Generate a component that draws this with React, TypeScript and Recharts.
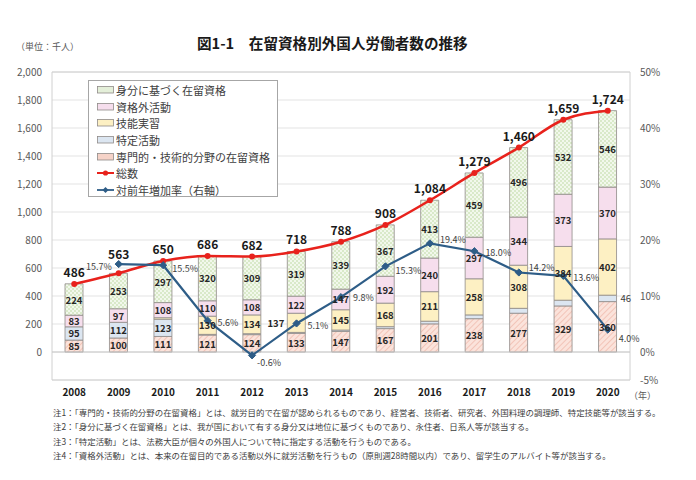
import React from "react";
import {
  ComposedChart, Bar, Line, XAxis, YAxis, CartesianGrid,
  ReferenceArea, ReferenceLine, LabelList,
} from "recharts";

// ── Data (千人) ────────────────────────────────────────────────────────────
const YEARS = ["2008", "2009", "2010", "2011", "2012", "2013", "2014", "2015", "2016", "2017", "2018", "2019", "2020"];
const SENMON = [85, 100, 111, 121, 124, 133, 147, 167, 201, 238, 277, 329, 360];      // 専門的・技術的分野
const TOKUTEI = [95, 112, 123, 5, 7, 7, 10, 14, 19, 27, 35, 41, 46];                   // 特定活動
const GINOU = [0, 0, 11, 130, 134, 137, 145, 168, 211, 258, 308, 384, 402];             // 技能実習
const SHIKAKUGAI = [83, 97, 108, 110, 108, 122, 147, 192, 240, 297, 344, 373, 370];     // 資格外活動
const MIBUN = [224, 253, 297, 320, 309, 319, 339, 367, 413, 459, 496, 532, 546];        // 身分に基づく
const TOTAL = [486, 563, 650, 686, 682, 718, 788, 908, 1084, 1279, 1460, 1659, 1724];
const GROWTH = [null, 15.7, 15.5, 5.6, -0.6, 5.1, 9.8, 15.3, 19.4, 18.0, 14.2, 13.6, 4.0];

const LEFT_TICKS = [0, 200, 400, 600, 800, 1000, 1200, 1400, 1600, 1800, 2000];
const RIGHT_TICKS = [-5, 0, 10, 20, 30, 40, 50];

const NOTES = [
  "注1：「専門的・技術的分野の在留資格」とは、就労目的で在留が認められるものであり、経営者、技術者、研究者、外国料理の調理師、特定技能等が該当する。",
  "注2：「身分に基づく在留資格」とは、我が国において有する身分又は地位に基づくものであり、永住者、日系人等が該当する。",
  "注3：「特定活動」とは、法務大臣が個々の外国人について特に指定する活動を行うものである。",
  "注4：「資格外活動」とは、本来の在留目的である活動以外に就労活動を行うもの（原則週28時間以内）であり、留学生のアルバイト等が該当する。",
];

const rows = YEARS.map((year, i) => ({
  year,
  senmon: SENMON[i],
  tokutei: TOKUTEI[i],
  ginou: GINOU[i],
  shikakugai: SHIKAKUGAI[i],
  mibun: MIBUN[i],
  total: TOTAL[i],
  growth: GROWTH[i],
}));

const FONT = "'Noto Sans CJK JP', 'Noto Sans', sans-serif";
const BAR_STROKE = "#8f8a88";
const LAST_YEAR = YEARS[YEARS.length - 1];

// series styling, bottom → top
const SERIES = [
  { key: "senmon", name: "専門的・技術的分野の在留資格", fill: "url(#pat-senmon)", swatch: "#f6d3c8" },
  { key: "tokutei", name: "特定活動", fill: "#dce6f1", swatch: "#dce6f1" },
  { key: "ginou", name: "技能実習", fill: "#fdf0c3", swatch: "#fdf0c3" },
  { key: "shikakugai", name: "資格外活動", fill: "#f6deed", swatch: "#f6deed" },
  { key: "mibun", name: "身分に基づく在留資格", fill: "url(#pat-mibun)", swatch: "#e4efd9" },
];

// label offsets for the growth line (dx, dy, anchor)
const GROWTH_OFFSETS: Record<string, [number, number, string]> = {
  "2009": [-7, 2, "end"],
  "2010": [9, 3, "start"],
  "2011": [10, 2, "start"],
  "2012": [5, 7, "start"],
  "2013": [11, 2, "start"],
  "2014": [12, 0, "start"],
  "2015": [10, 4, "start"],
  "2016": [10, -4, "start"],
  "2017": [11, 1, "start"],
  "2018": [10, -5, "start"],
  "2019": [10, 2, "start"],
  "2020": [11, 9, "start"],
};

// labels carry "year|value" so placement doesn't depend on the label index
const tagged = (key: string) => (d: any) => `${d.year}|${d[key] ?? ""}`;
const untag = (v: any) => {
  const [year, raw] = String(v).split("|");
  return { year, num: raw === "" ? null : Number(raw) };
};

// ── Bar segment labels ─────────────────────────────────────────────────────
const segmentLabel = (key: string) => (p: any) => {
  const { x, y, width, height } = p;
  const { year, num } = untag(p.value);
  if (!num) return null;
  const h = Math.abs(height);
  const cy = y + height / 2;
  const base = { fontFamily: FONT, fontSize: 9.5, dominantBaseline: "central" as const };

  if (key === "tokutei") {
    if (year === LAST_YEAR) {
      return (
        <text x={x + width + 4} y={cy} textAnchor="start" fill="#404040" {...base}>
          {num}
        </text>
      );
    }
    if (h < 12.5) return null;
  }
  if (key === "ginou" && year === "2013") {
    return (
      <text x={x - 3} y={cy} textAnchor="end" fill="#262626" fontWeight={700} {...base}>
        {num}
      </text>
    );
  }
  if (h < 9) return null;
  return (
    <text x={x + width / 2} y={cy} textAnchor="middle" fill="#262626" fontWeight={700} {...base}>
      {num}
    </text>
  );
};

function TotalLabel(p: any) {
  const { x, y } = p;
  const { year, num } = untag(p.value);
  if (num === null) return null;
  const lift = year === "2009" ? 14 : 7;
  return (
    <text x={x} y={y - lift} textAnchor="middle" fill="#1a1a1a" fontFamily={FONT} fontSize={12} fontWeight={700}>
      {num.toLocaleString("en-US")}
    </text>
  );
}

function GrowthLabel(p: any) {
  const { x, y } = p;
  const { year, num } = untag(p.value);
  if (num === null) return null;
  const [dx, dy, anchor] = GROWTH_OFFSETS[year] ?? [10, 0, "start"];
  return (
    <text
      x={x + dx}
      y={y + dy}
      textAnchor={anchor as any}
      dominantBaseline="central"
      fill="#404040"
      fontFamily={FONT}
      fontSize={9}
    >
      {num.toFixed(1)}%
    </text>
  );
}

function Diamond(p: any) {
  const { cx, cy, value } = p;
  if (value === null || value === undefined || cx == null || cy == null) return null;
  const s = 3.6;
  return (
    <path
      d={`M${cx},${cy - s} L${cx + s},${cy} L${cx},${cy + s} L${cx - s},${cy} Z`}
      fill="#2e5d87"
      stroke="#2e5d87"
    />
  );
}

// ── Legend ─────────────────────────────────────────────────────────────────
function ChartLegend() {
  const items = [...SERIES].reverse();
  const row = { display: "flex", alignItems: "center", height: 16.6 };
  const text = { fontSize: 11, color: "#404040", marginLeft: 2, whiteSpace: "nowrap" as const };
  return (
    <div
      style={{
        position: "absolute", left: 88, top: 80, width: 190, height: 117,
        border: "1px solid #a6a6a6", background: "#fff", boxSizing: "border-box",
        padding: "1px 0 0 8px", fontFamily: FONT,
      }}
    >
      {items.map((s) => (
        <div key={s.key} style={row}>
          <svg width={17} height={8}>
            <rect x={0.5} y={0.5} width={16} height={6.5} fill={s.swatch} stroke={BAR_STROKE} strokeWidth={0.8} />
          </svg>
          <span style={text}>{s.name}</span>
        </div>
      ))}
      <div style={row}>
        <svg width={17} height={8}>
          <line x1={0} y1={4} x2={17} y2={4} stroke="#e8221c" strokeWidth={2} />
          <circle cx={8.5} cy={4} r={2.6} fill="#e8221c" />
        </svg>
        <span style={text}>総数</span>
      </div>
      <div style={row}>
        <svg width={17} height={8}>
          <line x1={0} y1={4} x2={17} y2={4} stroke="#2e5d87" strokeWidth={1.8} />
          <path d="M8.5,1 L11.5,4 L8.5,7 L5.5,4 Z" fill="#2e5d87" />
        </svg>
        <span style={text}>対前年増加率（右軸）</span>
      </div>
    </div>
  );
}

// ── Main ───────────────────────────────────────────────────────────────────
export default function App() {
  return (
    <div
      style={{
        position: "absolute", left: 0, top: 0, width: 696, height: 480,
        background: "#fff", fontFamily: FONT, overflow: "hidden",
      }}
    >
      <div style={{ position: "absolute", left: 197, top: 32, fontSize: 14.6, fontWeight: 700, color: "#1a1a1a", whiteSpace: "nowrap" }}>
        図1-1　在留資格別外国人労働者数の推移
      </div>
      <div style={{ position: "absolute", left: 16, top: 40, fontSize: 9, color: "#595959", whiteSpace: "nowrap" }}>
        （単位：千人）
      </div>

      <ComposedChart
        width={696}
        height={420}
        data={rows}
        margin={{ top: 72, right: 26, bottom: 10, left: 0 }}
        style={{ position: "absolute", left: 0, top: 0 }}
      >
        <defs>
          <pattern id="pat-senmon" width="4" height="4" patternUnits="userSpaceOnUse" patternTransform="rotate(45)">
            <rect width="4" height="4" fill="#fbe3db" />
            <line x1="0" y1="0" x2="0" y2="4" stroke="#ecb0a0" strokeWidth="1.2" />
          </pattern>
          <pattern id="pat-mibun" width="4" height="4" patternUnits="userSpaceOnUse">
            <rect width="4" height="4" fill="#f2f8ec" />
            <rect width="2" height="2" fill="#d9e9c9" />
            <rect x="2" y="2" width="2" height="2" fill="#d9e9c9" />
          </pattern>
        </defs>

        <CartesianGrid yAxisId="left" vertical={false} stroke="#e3e3e3" />
        <ReferenceArea yAxisId="left" y1={-200} y2={2000} fill="none" stroke="#d0d0d0" strokeWidth={1} />
        <ReferenceLine yAxisId="left" y={0} stroke="#c8c8c8" />

        <XAxis
          dataKey="year"
          height={30}
          axisLine={false}
          tickLine={false}
          tickSize={0}
          tickMargin={9}
          interval={0}
          tick={{ fontSize: 10, fontWeight: 700, fill: "#1a1a1a", fontFamily: FONT }}
        />
        <YAxis
          yAxisId="left"
          width={52}
          domain={[-200, 2000]}
          ticks={LEFT_TICKS}
          axisLine={false}
          tickLine={false}
          tickSize={0}
          tickMargin={10}
          tickFormatter={(v: number) => v.toLocaleString("en-US")}
          tick={{ fontSize: 10, fill: "#595959", fontFamily: FONT }}
        />
        <YAxis
          yAxisId="right"
          orientation="right"
          width={40}
          domain={[-5, 50]}
          ticks={RIGHT_TICKS}
          axisLine={false}
          tickLine={false}
          tickSize={0}
          tickMargin={10}
          tickFormatter={(v: number) => `${v}%`}
          tick={{ fontSize: 10, fill: "#595959", fontFamily: FONT, textAnchor: "start" }}
        />

        {SERIES.map((s) => (
          <Bar
            key={s.key}
            yAxisId="left"
            dataKey={s.key}
            name={s.name}
            stackId="a"
            barSize={18}
            fill={s.fill}
            stroke={BAR_STROKE}
            strokeWidth={0.8}
            isAnimationActive={false}
          >
            <LabelList dataKey={tagged(s.key)} content={segmentLabel(s.key)} />
          </Bar>
        ))}

        <Line
          yAxisId="left"
          type="monotone"
          dataKey="total"
          name="総数"
          stroke="#e8221c"
          strokeWidth={2.5}
          dot={{ r: 3, fill: "#e8221c", stroke: "#e8221c", strokeWidth: 0 }}
          isAnimationActive={false}
        >
          <LabelList dataKey={tagged("total")} content={<TotalLabel />} />
        </Line>

        <Line
          yAxisId="right"
          type="linear"
          dataKey="growth"
          name="対前年増加率（右軸）"
          stroke="#2e5d87"
          strokeWidth={2.2}
          dot={<Diamond />}
          connectNulls={false}
          isAnimationActive={false}
        >
          <LabelList dataKey={tagged("growth")} content={<GrowthLabel />} />
        </Line>
      </ComposedChart>

      <ChartLegend />

      <div style={{ position: "absolute", left: 629, top: 389, fontSize: 9, color: "#595959" }}>（年）</div>

      <div style={{ position: "absolute", left: 53, top: 405, fontSize: 8.45, color: "#404040", lineHeight: "14.4px" }}>
        {NOTES.map((n) => (
          <div key={n} style={{ whiteSpace: "nowrap" }}>{n}</div>
        ))}
      </div>
    </div>
  );
}
